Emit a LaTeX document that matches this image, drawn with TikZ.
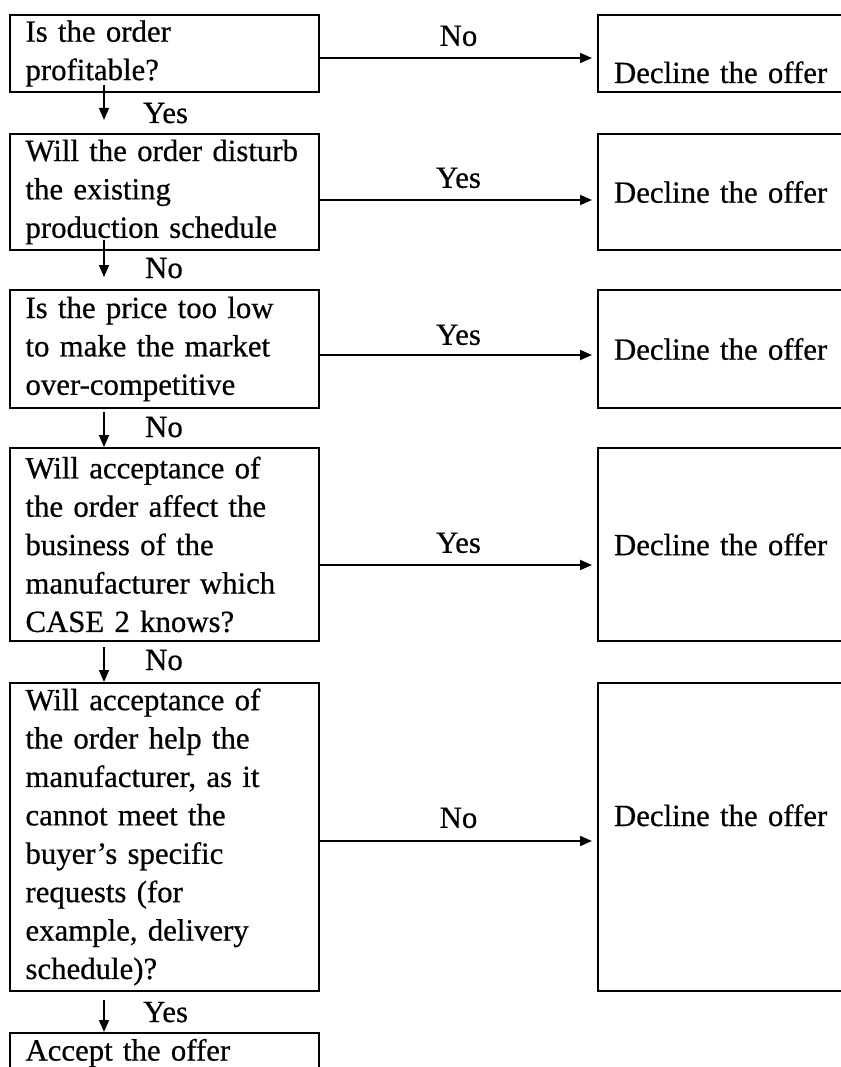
\documentclass[tikz,border=0pt]{standalone}
\usepackage{fontspec}
\setmainfont[FakeBold=0.6]{Liberation Serif}
\usetikzlibrary{arrows.meta}
\newcommand\diafont{\fontsize{30.8pt}{38.4pt}\selectfont\hyphenpenalty=10000\exhyphenpenalty=10000}
\begin{document}
\begin{tikzpicture}[x=1pt,y=-1pt,
  lbox/.style={draw, line width=2pt, anchor=north west, minimum width=309pt,
    text width=278pt, inner xsep=15.5pt, inner ysep=0pt, align=left, font=\diafont},
  rbox/.style={draw, line width=2pt, anchor=north west, minimum width=309pt,
    text width=277pt, inner xsep=16pt, inner ysep=0pt, align=left, font=\diafont},
  arr/.style={line width=1.8pt, -{Triangle[length=12pt,width=10pt]}},
  hlab/.style={font=\diafont, inner sep=0pt, anchor=south},
  dlab/.style={font=\diafont, inner sep=0pt, anchor=base west}]
\useasboundingbox (0,0) rectangle (840,1067);
% left column
\node[lbox, minimum height=77pt]  (b1) at (9,14)   {Is the order\\profitable?};
\node[lbox, minimum height=116pt] (b2) at (9,133)  {Will the order disturb\\the existing\\production schedule};
\node[lbox, minimum height=118pt] (b3) at (9,289)  {Is the price too low\\to make the market\\over-competitive};
\node[lbox, minimum height=193pt] (b4) at (9,447)  {Will acceptance of\\the order affect the\\business of the\\manufacturer which\\CASE 2 knows?};
\node[lbox, minimum height=308pt] (b5) at (9,682)  {Will acceptance of\\the order help the\\manufacturer, as it\\cannot meet the\\buyer’s specific\\requests (for\\example, delivery\\schedule)?};
\node[lbox, minimum height=40pt]  (b6) at (9,1032) {Accept the offer};
% right column
\node[rbox, minimum height=77pt, text height=59pt, text depth=0pt] (r1) at (597,14) {Decline the offer};
\node[rbox, minimum height=116pt] (r2) at (597,133) {Decline the offer};
\node[rbox, minimum height=118pt] (r3) at (597,289) {Decline the offer};
\node[rbox, minimum height=193pt] (r4) at (597,447) {Decline the offer};
\node[rbox, minimum height=308pt, text height=20pt, text depth=42pt] (r5) at (597,682) {Decline the offer};
% horizontal connectors
\draw[arr, shorten >=5pt] ([yshift=-4.5pt]b1.east) -- ([yshift=-4.5pt]r1.west) node[hlab, midway, above=11pt] (h1) {No};
\draw[arr, shorten >=5pt] ([yshift=-8pt]b2.east) -- ([yshift=-8pt]r2.west) node[hlab, midway, above=11pt] (h2) {Yes};
\draw[arr, shorten >=5pt] ([yshift=-6pt]b3.east) -- ([yshift=-6pt]r3.west) node[hlab, midway, above=9pt] (h3) {Yes};
\draw[arr, shorten >=5pt] ([yshift=-20.5pt]b4.east) -- ([yshift=-20.5pt]r4.west) node[hlab, midway, above=11pt] (h4) {Yes};
\draw[arr, shorten >=5pt] ([yshift=-4pt]b5.east) -- ([yshift=-4pt]r5.west) node[hlab, midway, above=12pt] (h5) {No};
% vertical connectors
\draw[arr] ([xshift=95pt,yshift=8pt]b1.south west) -- ([xshift=95pt,yshift=13pt]b2.north west);
\draw[arr] ([xshift=95pt,yshift=11pt]b2.south west) -- ([xshift=95pt,yshift=12pt]b3.north west);
\draw[arr] ([xshift=95pt,yshift=-3pt]b3.south west) -- ([xshift=95pt]b4.north west);
\draw[arr] ([xshift=95pt,yshift=-5pt]b4.south west) -- ([xshift=95pt]b5.north west);
\draw[arr] ([xshift=95pt,yshift=-8pt]b5.south west) -- ([xshift=95pt]b6.north west);
% vertical labels
\node[dlab] (v1) at ([xshift=134pt,yshift=10pt]b2.north west) {Yes};
\node[dlab] (v2) at ([xshift=136pt,yshift=11pt]b3.north west) {No};
\node[dlab] (v3) at ([xshift=136pt,yshift=10pt]b4.north west) {No};
\node[dlab] (v4) at ([xshift=136pt,yshift=12pt]b5.north west) {No};
\node[dlab] (v5) at ([xshift=134pt,yshift=10pt]b6.north west) {Yes};
\end{tikzpicture}
\end{document}
